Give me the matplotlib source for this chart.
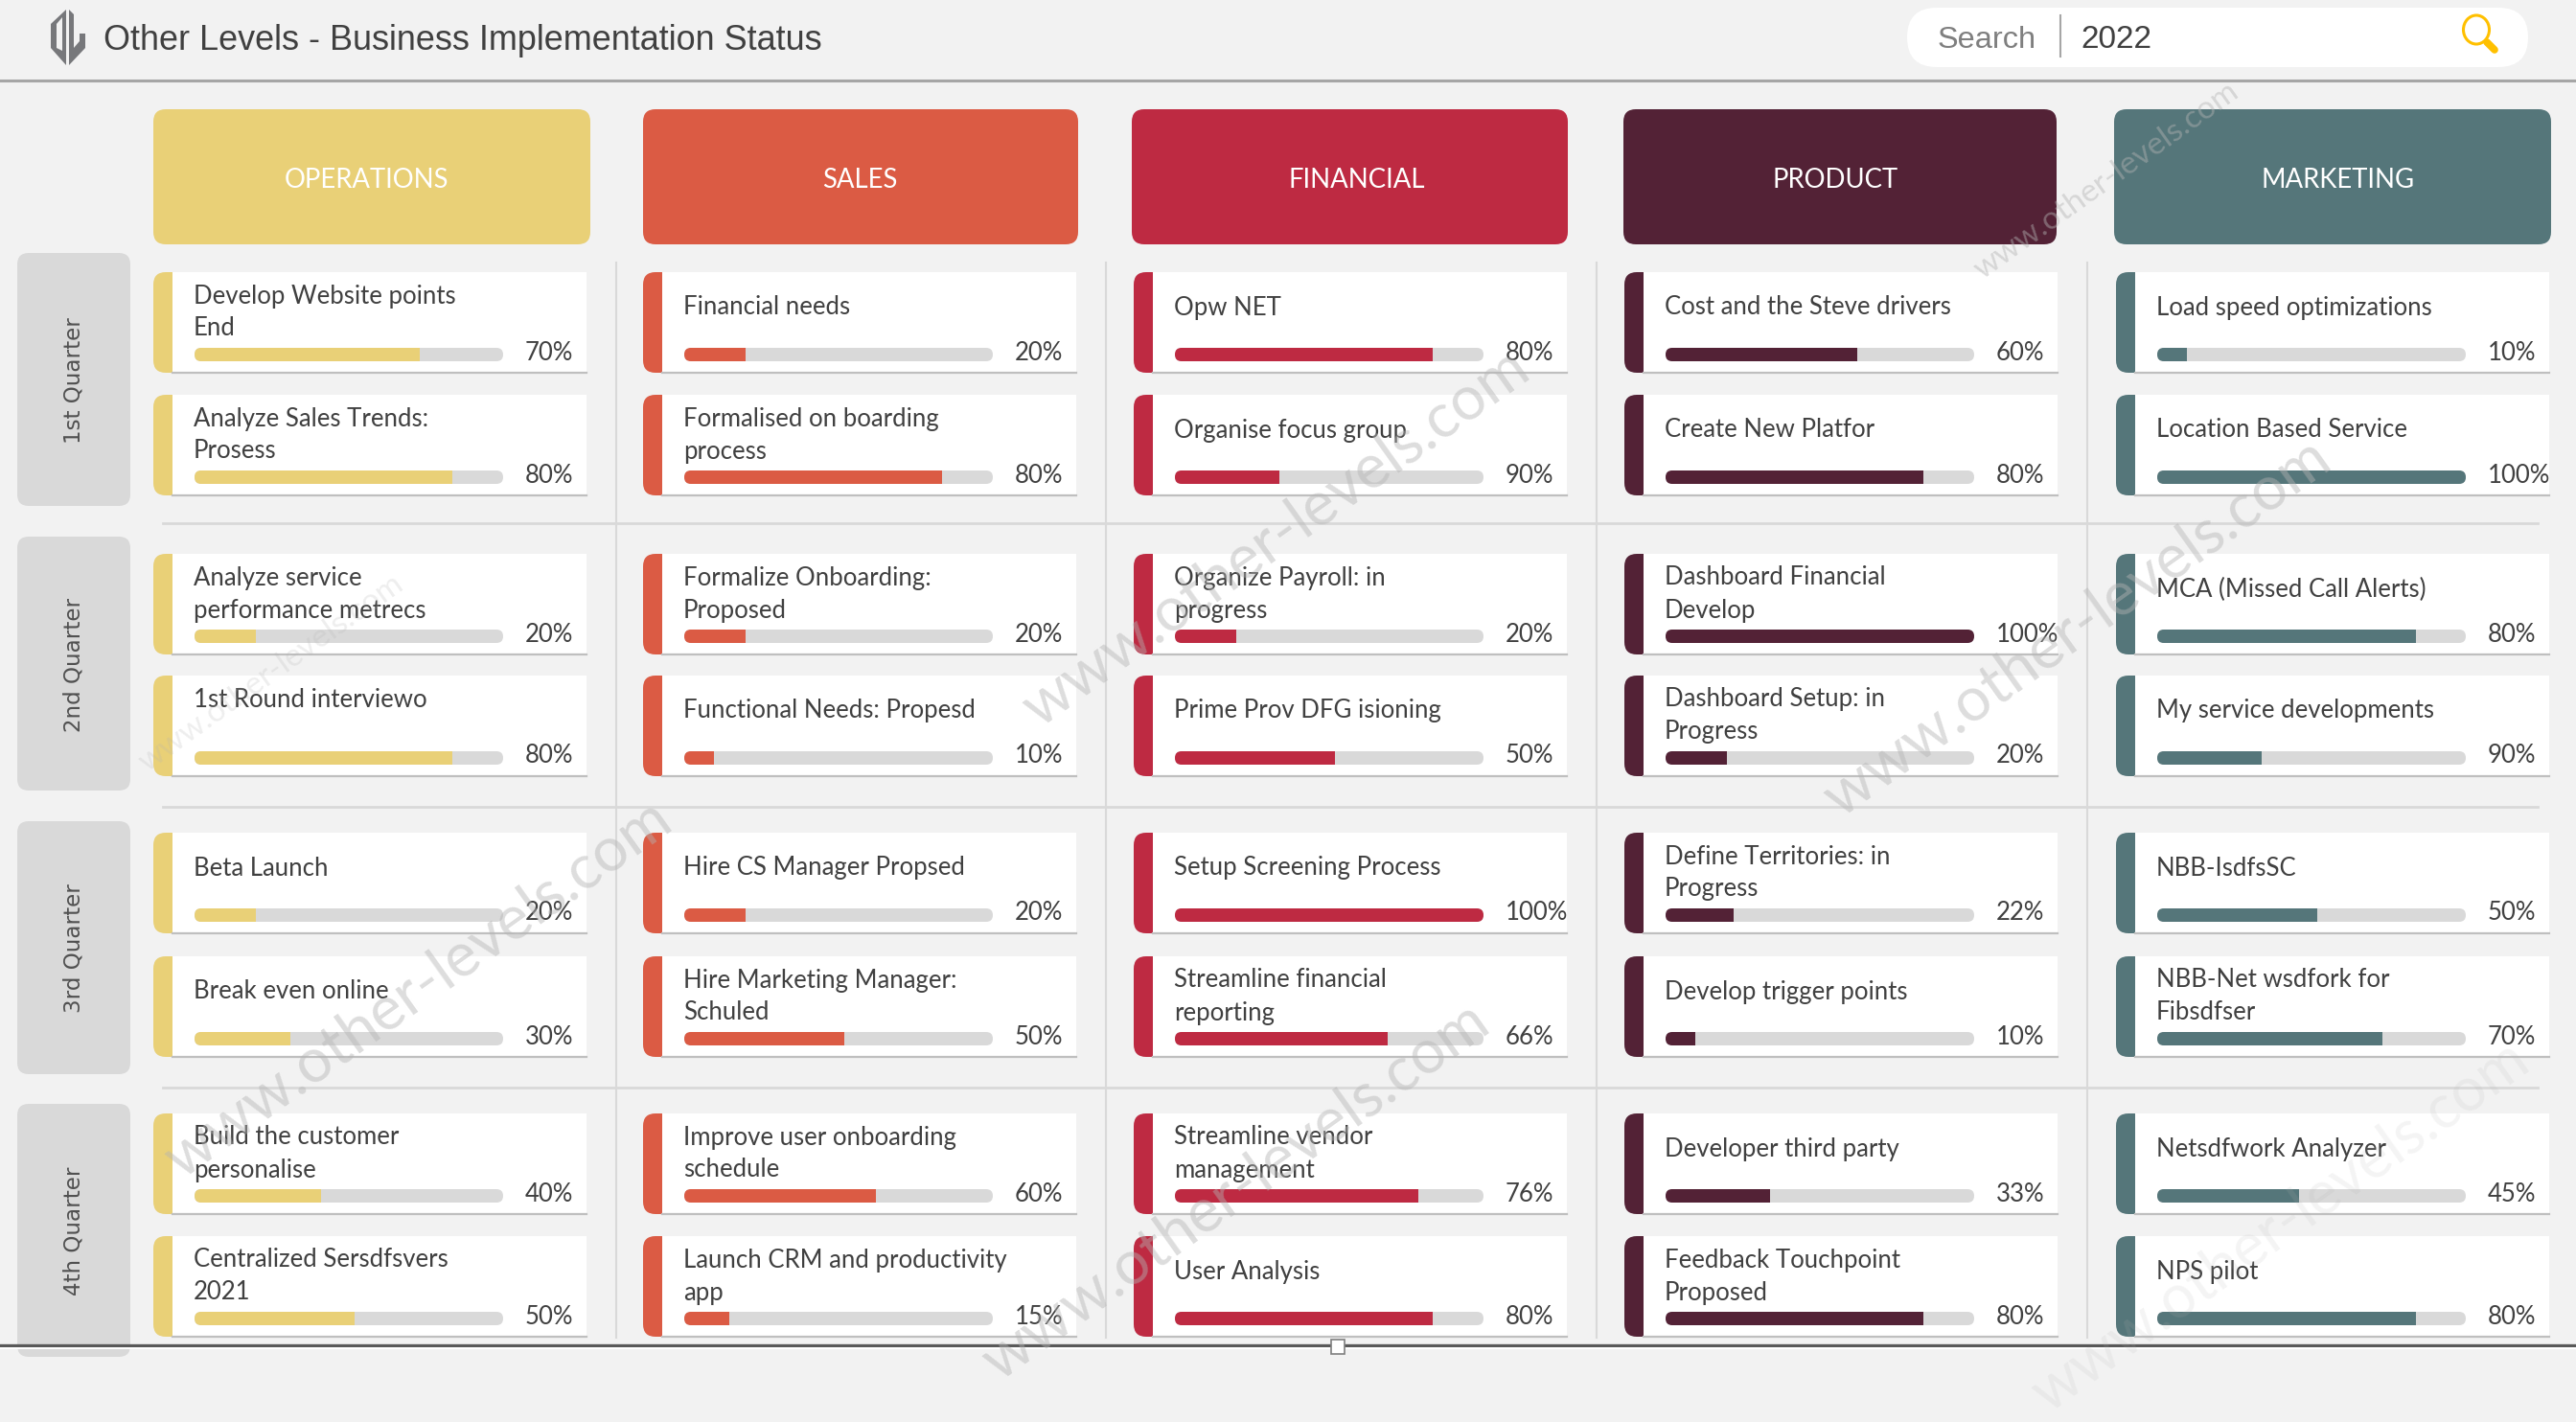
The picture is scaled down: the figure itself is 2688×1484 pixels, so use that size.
import matplotlib
matplotlib.use('Agg')
import matplotlib.pyplot as plt
from matplotlib.patches import FancyBboxPatch, Rectangle, Polygon, Ellipse

departments = ['OPERATIONS', 'SALES', 'FINANCIAL', 'PRODUCT', 'MARKETING']
quarters = ['1st Quarter', '2nd Quarter', '3rd Quarter', '4th Quarter']
colors = ['#E9D077', '#DB5B44', '#BE2A42', '#532236', '#55767A']

ops_tasks = ['Develop Website points\nEnd', 'Analyze Sales Trends:\nProsess',
             'Analyze service\nperformance metrecs', '1st Round interviewo\n ',
             'Beta Launch', 'Break even online',
             'Build the customer\npersonalise', 'Centralized Sersdfsvers\n2021']
sales_tasks = ['Financial needs', 'Formalised on boarding\nprocess',
               'Formalize Onboarding:\nProposed', 'Functional Needs: Propesd',
               'Hire CS Manager Propsed', 'Hire Marketing Manager:\nSchuled',
               'Improve user onboarding\nschedule', 'Launch CRM and productivity\napp']
fin_tasks = ['Opw NET', 'Organise focus group',
             'Organize Payroll: in\nprogress', 'Prime Prov DFG isioning',
             'Setup Screening Process', 'Streamline financial\nreporting',
             'Streamline vendor\nmanagement', 'User Analysis']
prod_tasks = ['Cost and the Steve drivers', 'Create New Platfor',
              'Dashboard Financial\nDevelop', 'Dashboard Setup: in\nProgress',
              'Define Territories: in\nProgress', 'Develop trigger points',
              'Developer third party', 'Feedback Touchpoint\nProposed']
mkt_tasks = ['Load speed optimizations', 'Location Based Service',
             'MCA (Missed Call Alerts)', 'My service developments',
             'NBB-IsdfsSC', 'NBB-Net wsdfork for\nFibsdfser',
             'Netsdfwork Analyzer', 'NPS pilot']

# printed percentages
ops_pct = [70, 80, 20, 80, 20, 30, 40, 50]
sales_pct = [20, 80, 20, 10, 20, 50, 60, 15]
fin_pct = [80, 90, 20, 50, 100, 66, 76, 80]
prod_pct = [60, 80, 100, 20, 22, 10, 33, 80]
mkt_pct = [10, 100, 80, 90, 50, 70, 45, 80]

# how far the bars are actually filled, they don't always agree with the label
ops_fill = [73, 83.6, 20, 83.6, 20, 31, 41, 52]
sales_fill = [20, 83.6, 20, 9.5, 20, 52, 62, 14.5]
fin_fill = [83.6, 34, 20, 52, 100, 69, 79, 83.6]
prod_fill = [62, 83.6, 100, 20, 22, 9.5, 34, 83.6]
mkt_fill = [9.5, 100, 84, 34, 52, 73, 46, 84]

tasks = [ops_tasks, sales_tasks, fin_tasks, prod_tasks, mkt_tasks]
pcts = [ops_pct, sales_pct, fin_pct, prod_pct, mkt_pct]
fills = [ops_fill, sales_fill, fin_fill, prod_fill, mkt_fill]

# layout, all in pixels of the final image
head_x = [(160, 616), (671, 1125), (1181, 1636), (1694, 2146), (2206, 2662)]
head_label_x = [382, 897, 1416, 1915, 2440]
card_x = [160, 671, 1183, 1695, 2208]
card_y = [284, 412, 578, 705, 869, 998, 1162, 1290]
quarter_y = [(264, 528), (560, 825), (857, 1121), (1152, 1416)]
vlines = [643, 1154, 1666, 2178]
hlines = [546, 842, 1135]

BG = '#F2F2F2'
TRACK = '#D9D9D9'
TXT = '#404040'
LOGO = '#77787B'
BODY = 'Lato'

fig = plt.figure(figsize=(26.88, 14.84), dpi=100, facecolor=BG)
ax = fig.add_axes([0, 0, 1, 1])
ax.set_xlim(0, 2688)
ax.set_ylim(1484, 0)
ax.axis('off')


def rbox(x0, y0, x1, y1, r, color, z=2, **kw):
    p = FancyBboxPatch((x0, y0), x1 - x0, y1 - y0,
                       boxstyle='round,pad=0,rounding_size=%g' % r,
                       fc=color, ec='none', zorder=z, **kw)
    ax.add_patch(p)
    return p


# top strip
ax.plot([0, 2688], [84, 84], color='#A6A6A6', lw=2.2, zorder=1)
ax.add_patch(Polygon([(53, 25), (69, 10), (69, 68), (53, 50)], fc=LOGO, ec='none', zorder=3))
ax.add_patch(Polygon([(59, 25), (65, 18), (65, 53), (59, 50)], fc=BG, ec='none', zorder=3.1))
ax.add_patch(Polygon([(72, 10), (77, 15), (77, 50), (83, 43), (83, 35), (89, 35), (89, 50), (72, 68)],
                     fc=LOGO, ec='none', zorder=3))
ax.text(108, 43, 'Other Levels - Business Implementation Status', family='Liberation Sans',
        fontsize=25.9, color=TXT, va='center', ha='left', zorder=3)
rbox(1990, 8, 2638, 70, 31, 'white', z=2)
ax.text(2022, 42, 'Search', family='Liberation Sans', fontsize=23.4, color='#7F7F7F', va='center', zorder=3)
ax.plot([2150, 2150], [16, 59], color='#A6A6A6', lw=1.5, zorder=3)
ax.text(2171, 42, '2022', family='Liberation Sans', fontsize=24, color=TXT, va='center', zorder=3)
ax.add_patch(Ellipse((2584, 31), 27, 30, fc='none', ec='#FFC000', lw=2.2, zorder=3))
ax.plot([2595, 2603], [44, 52], color='#FFC000', lw=5.5, solid_capstyle='round', zorder=3)

# grid lines between columns and quarters
for x in vlines:
    ax.plot([x, x], [274, 1396], color='#D9D9D9', lw=1.5, zorder=1)
for y in hlines:
    ax.plot([170, 2648], [y, y], color='#D9D9D9', lw=2, zorder=1)

for (y0, y1), q in zip(quarter_y, quarters):
    rbox(18, y0, 136, y1, 12, TRACK)
    ax.text(77, (y0 + y1) / 2 + 1, q, rotation=90, ha='center', va='center',
            family='DejaVu Sans', fontsize=16.6, color='#505050', zorder=3)

for i, dept in enumerate(departments):
    x0, x1 = head_x[i]
    c = colors[i]
    rbox(x0, 114, x1, 255, 13, c)
    ax.text(head_label_x[i], 188, dept, color='white', family=BODY, fontsize=19.8,
            ha='center', va='center', zorder=3)

    cx = card_x[i]
    for j, y in enumerate(card_y):
        # rounded stripe on the left, square white card on top of it
        rbox(cx, y, cx + 32, y + 105, 13, c)
        ax.add_patch(Rectangle((cx + 20, y), 432, 105, fc='white', ec='none', zorder=2.1))
        ax.plot([cx + 20, cx + 452], [y + 105, y + 105], color='#BFBFBF', lw=1.6, zorder=2.2)

        lines = tasks[i][j].split('\n')
        if len(lines) == 2:
            ax.text(cx + 42, y + 25, lines[0], family=BODY, fontsize=18.5, color=TXT, va='center', zorder=3)
            ax.text(cx + 42, y + 59, lines[1], family=BODY, fontsize=18.5, color=TXT, va='center', zorder=3)
        else:
            ax.text(cx + 42, y + 37, lines[0], family=BODY, fontsize=18.5, color=TXT, va='center', zorder=3)

        # progress bar, fill clipped to the rounded track
        track = rbox(cx + 43, y + 79, cx + 365, y + 93, 7, TRACK, z=3)
        bar = ax.barh(y + 86, fills[i][j] / 100 * 322, height=14, left=cx + 43, color=c, zorder=3.1)
        bar[0].set_clip_path(track)
        ax.text(cx + 388, y + 84, '%d%%' % pcts[i][j], family=BODY, fontsize=18.5, color=TXT,
                va='center', ha='left', zorder=3)

# watermark
marks = [(1332, 561, 46, 0.45), (2168, 655, 46, 0.45), (437, 1032, 46, 0.45),
         (1290, 1243, 46, 0.45), (2380, 1280, 45, 0.14), (2198, 189, 24, 0.45),
         (283, 703, 24, 0.22)]
for x, y, size, a in marks:
    ax.text(x, y, 'www.other-levels.com', family=BODY, fontsize=size, color='#B4B4B4', alpha=a,
            rotation=35.5, rotation_mode='anchor', ha='center', va='center', zorder=5)

# slicer edge at the bottom
ax.plot([0, 2688], [1404, 1404], color='#595959', lw=2.4, zorder=4)
ax.add_patch(Rectangle((0, 1406), 2688, 2, fc='white', ec='none', zorder=4))
ax.add_patch(Rectangle((1389, 1398), 14, 15, fc='white', ec='#7F7F7F', lw=1.2, zorder=4.5))

fig.savefig('out.png', dpi=100, facecolor=BG)
